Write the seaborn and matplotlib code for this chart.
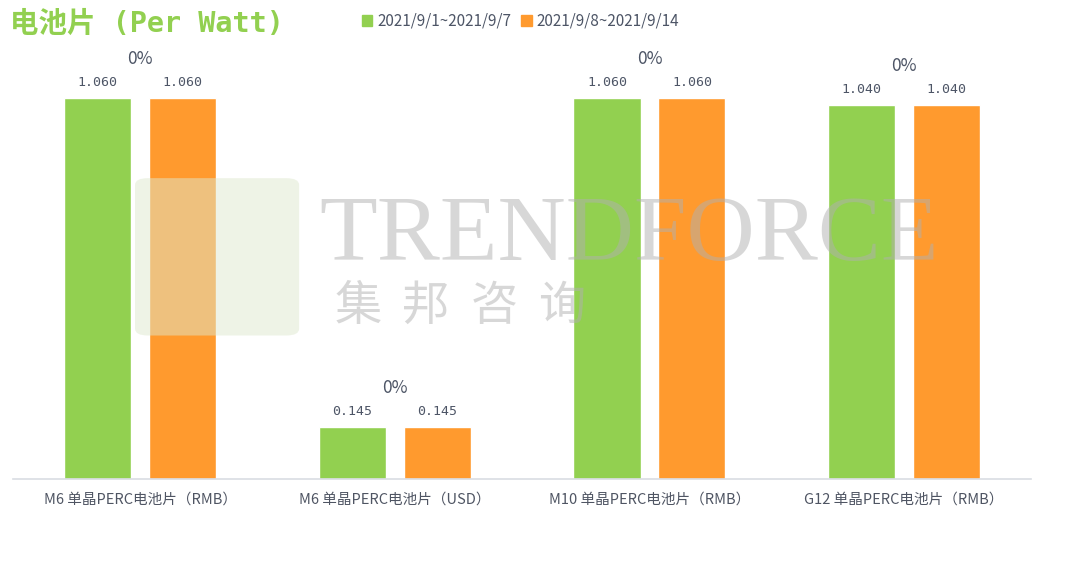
import matplotlib
matplotlib.use("Agg")
import matplotlib.pyplot as plt
from matplotlib.patches import FancyBboxPatch
import seaborn as sns
import pandas as pd

categories = ["M6 单晶PERC电池片（RMB）", "M6 单晶PERC电池片（USD）",
              "M10 单晶PERC电池片（RMB）", "G12 单晶PERC电池片（RMB）"]
period_1 = "2021/9/1~2021/9/7"
period_2 = "2021/9/8~2021/9/14"
values_1 = [1.060, 0.145, 1.060, 1.040]
values_2 = [1.060, 0.145, 1.060, 1.040]

GREEN = "#92d050"
ORANGE = "#ff9a2e"
TEXT = "#4d5566"

df = pd.DataFrame({
    "category": categories * 2,
    "period": [period_1] * len(categories) + [period_2] * len(categories),
    "value": values_1 + values_2,
})

sns.set_theme(style="white")
plt.rcParams["font.family"] = ["Noto Sans CJK SC", "DejaVu Sans"]

fig = plt.figure(figsize=(10.8, 5.62), dpi=100)
ax = fig.add_axes([0.012, 0.148, 0.943, 0.782])

sns.barplot(data=df, x="category", y="value", hue="period",
            palette=[GREEN, ORANGE], width=0.667, gap=0.21,
            saturation=1, ax=ax, legend=False)

ax.set_xlim(-0.5, 3.5)
ax.set_ylim(0, 1.222)
ax.set_xlabel("")
ax.set_ylabel("")
ax.set_yticks([])
for s in ["top", "right", "left"]:
    ax.spines[s].set_visible(False)
ax.spines["bottom"].set_color("#d9dde3")
ax.spines["bottom"].set_linewidth(1.2)
ax.tick_params(axis="x", length=0, pad=10, labelsize=10.5, labelcolor="#4f5563")

for cont in ax.containers:
    ax.bar_label(cont, fmt="%.3f", padding=6, fontsize=9.5, color=TEXT,
                 family=["DejaVu Sans Mono"])

for i, (a, b) in enumerate(zip(values_1, values_2)):
    pct = (b - a) / a * 100
    ax.annotate(f"{pct:.0f}%", xy=(i, max(a, b)), xytext=(0, 28),
                textcoords="offset points", ha="center", va="center",
                fontsize=12.5, color=TEXT)

# title
fig.text(0.009, 0.958, "电池片 (Per Watt)", fontsize=20.5, fontweight="bold",
         color=GREEN, ha="left", va="center",
         family=["DejaVu Sans Mono", "Noto Sans CJK SC"])

# legend
handles = [plt.Rectangle((0, 0), 1, 1, color=GREEN), plt.Rectangle((0, 0), 1, 1, color=ORANGE)]
fig.legend(handles, [period_1, period_2], loc="center", bbox_to_anchor=(0.482, 0.962),
           ncol=2, frameon=False, fontsize=11, handlelength=0.7, handleheight=0.7,
           handletextpad=0.35, columnspacing=0.6, labelcolor=TEXT)

# watermark
box = FancyBboxPatch((0.125, 0.403), 0.152, 0.28, boxstyle="round,pad=0,rounding_size=0.012",
                     transform=fig.transFigure, facecolor="#dfe9cf", edgecolor="none",
                     alpha=0.5, zorder=10)
fig.patches.append(box)
fig.text(0.296, 1 - 280 / 562, "TRENDFORCE", fontsize=68, family="Liberation Serif",
         color="#b0b0b0", alpha=0.5, ha="left", va="bottom", zorder=11)
for k, ch in enumerate("集邦咨询"):
    fig.text((358 + 68 * k) / 1080, 1 - 282 / 562, ch, fontsize=34, family=["Noto Sans CJK SC"],
             color="#b0b0b0", alpha=0.5, ha="center", va="top", zorder=11)

fig.savefig("out.png", dpi=100)
